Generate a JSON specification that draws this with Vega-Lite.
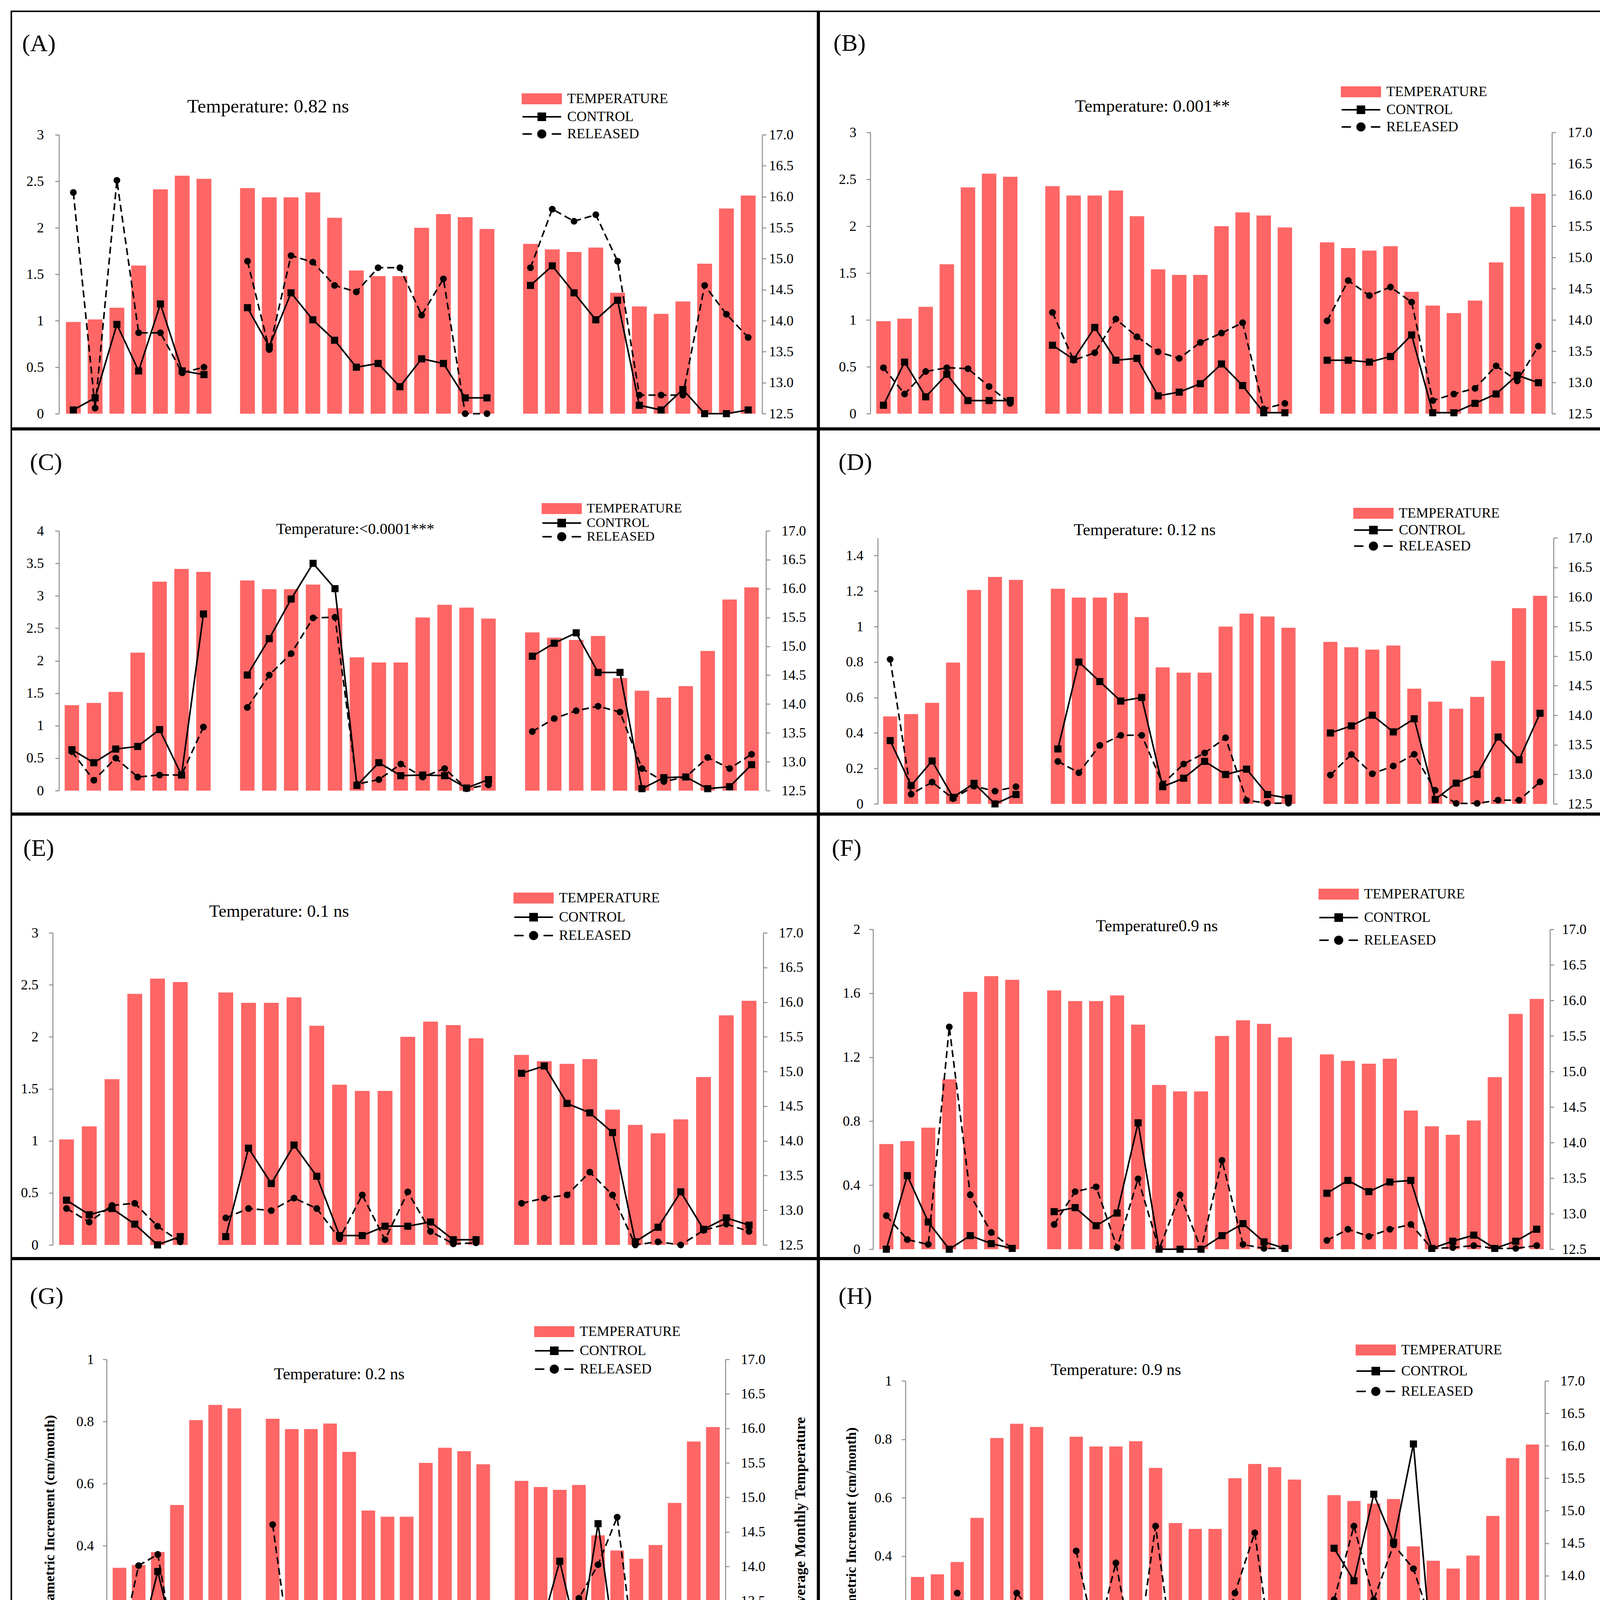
{
  "$schema": "https://vega.github.io/schema/vega-lite/v6.json",
  "background": "white",
  "padding": {"left": 27, "top": 27, "right": 0, "bottom": 0},
  "config": {
    "view": {"stroke": "black", "strokeWidth": 4},
    "axis": {"labelFont": "Liberation Serif", "labelFontSize": 36, "labelColor": "black", "domainColor": "#8c8c8c", "domainWidth": 2.5, "tickColor": "#8c8c8c", "tickWidth": 2.5, "tickSize": 10, "grid": false, "titleFont": "Liberation Serif", "titleFontWeight": "bold", "titleColor": "black"},
    "legend": {"labelFont": "Liberation Serif", "labelFontSize": 36, "labelColor": "black", "labelLimit": 600, "symbolSize": 900, "symbolStrokeWidth": 4, "labelOffset": 47, "padding": 0, "symbolOpacity": 1}
  },
  "datasets": {
    "temp": [
      {"s":1,"t":13.98},{"s":2,"t":14.02},{"s":3,"t":14.21},{"s":4,"t":14.89},{"s":5,"t":16.12},{"s":6,"t":16.34},{"s":7,"t":16.29},
      {"s":9,"t":16.14},{"s":10,"t":15.99},{"s":11,"t":15.99},{"s":12,"t":16.07},{"s":13,"t":15.66},{"s":14,"t":14.81},{"s":15,"t":14.72},{"s":16,"t":14.72},{"s":17,"t":15.5},{"s":18,"t":15.72},{"s":19,"t":15.67},{"s":20,"t":15.48},
      {"s":22,"t":15.24},{"s":23,"t":15.15},{"s":24,"t":15.11},{"s":25,"t":15.18},{"s":26,"t":14.45},{"s":27,"t":14.23},{"s":28,"t":14.11},{"s":29,"t":14.31},{"s":30,"t":14.92},{"s":31,"t":15.81},{"s":32,"t":16.02}
    ],
    "A": [
      {"s":1,"g":1,"c":0.04,"r":2.38},{"s":2,"g":1,"c":0.17,"r":0.06},{"s":3,"g":1,"c":0.96,"r":2.51},{"s":4,"g":1,"c":0.46,"r":0.87},{"s":5,"g":1,"c":1.18,"r":0.87},{"s":6,"g":1,"c":0.46,"r":0.44},{"s":7,"g":1,"c":0.42,"r":0.5},
      {"s":9,"g":2,"c":1.14,"r":1.64},{"s":10,"g":2,"c":0.72,"r":0.69},{"s":11,"g":2,"c":1.3,"r":1.7},{"s":12,"g":2,"c":1.01,"r":1.63},{"s":13,"g":2,"c":0.79,"r":1.38},{"s":14,"g":2,"c":0.5,"r":1.31},{"s":15,"g":2,"c":0.54,"r":1.57},{"s":16,"g":2,"c":0.29,"r":1.57},{"s":17,"g":2,"c":0.59,"r":1.06},{"s":18,"g":2,"c":0.54,"r":1.45},{"s":19,"g":2,"c":0.17,"r":0},{"s":20,"g":2,"c":0.17,"r":0},
      {"s":22,"g":3,"c":1.38,"r":1.57},{"s":23,"g":3,"c":1.59,"r":2.2},{"s":24,"g":3,"c":1.3,"r":2.07},{"s":25,"g":3,"c":1.01,"r":2.14},{"s":26,"g":3,"c":1.22,"r":1.64},{"s":27,"g":3,"c":0.09,"r":0.2},{"s":28,"g":3,"c":0.04,"r":0.2},{"s":29,"g":3,"c":0.26,"r":0.2},{"s":30,"g":3,"c":0,"r":1.38},{"s":31,"g":3,"c":0,"r":1.07},{"s":32,"g":3,"c":0.04,"r":0.82}
    ],
    "B": [
      {"s":1,"g":1,"c":0.09,"r":0.49},{"s":2,"g":1,"c":0.55,"r":0.21},{"s":3,"g":1,"c":0.18,"r":0.45},{"s":4,"g":1,"c":0.42,"r":0.49},{"s":5,"g":1,"c":0.14,"r":0.48},{"s":6,"g":1,"c":0.14,"r":0.29},{"s":7,"g":1,"c":0.14,"r":0.11},
      {"s":9,"g":2,"c":0.73,"r":1.08},{"s":10,"g":2,"c":0.58,"r":0.57},{"s":11,"g":2,"c":0.92,"r":0.65},{"s":12,"g":2,"c":0.57,"r":1.01},{"s":13,"g":2,"c":0.59,"r":0.82},{"s":14,"g":2,"c":0.19,"r":0.66},{"s":15,"g":2,"c":0.23,"r":0.59},{"s":16,"g":2,"c":0.32,"r":0.76},{"s":17,"g":2,"c":0.53,"r":0.86},{"s":18,"g":2,"c":0.3,"r":0.97},{"s":19,"g":2,"c":0.01,"r":0.05},{"s":20,"g":2,"c":0.01,"r":0.11},
      {"s":22,"g":3,"c":0.57,"r":0.99},{"s":23,"g":3,"c":0.57,"r":1.42},{"s":24,"g":3,"c":0.55,"r":1.26},{"s":25,"g":3,"c":0.61,"r":1.35},{"s":26,"g":3,"c":0.84,"r":1.19},{"s":27,"g":3,"c":0.01,"r":0.14},{"s":28,"g":3,"c":0.01,"r":0.21},{"s":29,"g":3,"c":0.11,"r":0.27},{"s":30,"g":3,"c":0.21,"r":0.51},{"s":31,"g":3,"c":0.41,"r":0.35},{"s":32,"g":3,"c":0.33,"r":0.72}
    ],
    "C": [
      {"s":1,"g":1,"c":0.63,"r":0.6},{"s":2,"g":1,"c":0.43,"r":0.16},{"s":3,"g":1,"c":0.64,"r":0.5},{"s":4,"g":1,"c":0.68,"r":0.21},{"s":5,"g":1,"c":0.94,"r":0.24},{"s":6,"g":1,"c":0.24,"r":0.24},{"s":7,"g":1,"c":2.72,"r":0.98},
      {"s":9,"g":2,"c":1.78,"r":1.28},{"s":10,"g":2,"c":2.34,"r":1.78},{"s":11,"g":2,"c":2.95,"r":2.11},{"s":12,"g":2,"c":3.5,"r":2.66},{"s":13,"g":2,"c":3.11,"r":2.67},{"s":14,"g":2,"c":0.08,"r":0.1},{"s":15,"g":2,"c":0.43,"r":0.17},{"s":16,"g":2,"c":0.23,"r":0.41},{"s":17,"g":2,"c":0.24,"r":0.21},{"s":18,"g":2,"c":0.23,"r":0.34},{"s":19,"g":2,"c":0.04,"r":0.03},{"s":20,"g":2,"c":0.17,"r":0.09},
      {"s":22,"g":3,"c":2.07,"r":0.91},{"s":23,"g":3,"c":2.27,"r":1.11},{"s":24,"g":3,"c":2.43,"r":1.23},{"s":25,"g":3,"c":1.82,"r":1.3},{"s":26,"g":3,"c":1.82,"r":1.21},{"s":27,"g":3,"c":0.03,"r":0.34},{"s":28,"g":3,"c":0.2,"r":0.14},{"s":29,"g":3,"c":0.21,"r":0.21},{"s":30,"g":3,"c":0.03,"r":0.51},{"s":31,"g":3,"c":0.06,"r":0.34},{"s":32,"g":3,"c":0.4,"r":0.56}
    ],
    "D": [
      {"s":1,"g":1,"c":0.357,"r":0.815},{"s":2,"g":1,"c":0.104,"r":0.055},{"s":3,"g":1,"c":0.242,"r":0.123},{"s":4,"g":1,"c":0.037,"r":0.03},{"s":5,"g":1,"c":0.116,"r":0.1},{"s":6,"g":1,"c":0,"r":0.072},{"s":7,"g":1,"c":0.053,"r":0.097},
      {"s":9,"g":2,"c":0.31,"r":0.24},{"s":10,"g":2,"c":0.8,"r":0.176},{"s":11,"g":2,"c":0.69,"r":0.33},{"s":12,"g":2,"c":0.58,"r":0.387},{"s":13,"g":2,"c":0.6,"r":0.387},{"s":14,"g":2,"c":0.097,"r":0.113},{"s":15,"g":2,"c":0.145,"r":0.225},{"s":16,"g":2,"c":0.24,"r":0.287},{"s":17,"g":2,"c":0.166,"r":0.373},{"s":18,"g":2,"c":0.196,"r":0.02},{"s":19,"g":2,"c":0.053,"r":0.004},{"s":20,"g":2,"c":0.032,"r":0.004},
      {"s":22,"g":3,"c":0.4,"r":0.163},{"s":23,"g":3,"c":0.44,"r":0.279},{"s":24,"g":3,"c":0.5,"r":0.17},{"s":25,"g":3,"c":0.406,"r":0.214},{"s":26,"g":3,"c":0.48,"r":0.28},{"s":27,"g":3,"c":0.025,"r":0.077},{"s":28,"g":3,"c":0.117,"r":0.003},{"s":29,"g":3,"c":0.166,"r":0.003},{"s":30,"g":3,"c":0.377,"r":0.021},{"s":31,"g":3,"c":0.249,"r":0.021},{"s":32,"g":3,"c":0.511,"r":0.124}
    ],
    "E": [
      {"s":2,"g":1,"c":0.43,"r":0.35},{"s":3,"g":1,"c":0.29,"r":0.22},{"s":4,"g":1,"c":0.35,"r":0.38},{"s":5,"g":1,"c":0.2,"r":0.4},{"s":6,"g":1,"c":0,"r":0.18},{"s":7,"g":1,"c":0.08,"r":0.03},
      {"s":9,"g":2,"c":0.08,"r":0.26},{"s":10,"g":2,"c":0.93,"r":0.35},{"s":11,"g":2,"c":0.59,"r":0.33},{"s":12,"g":2,"c":0.96,"r":0.45},{"s":13,"g":2,"c":0.66,"r":0.35},{"s":14,"g":2,"c":0.09,"r":0.06},{"s":15,"g":2,"c":0.09,"r":0.48},{"s":16,"g":2,"c":0.18,"r":0.05},{"s":17,"g":2,"c":0.18,"r":0.51},{"s":18,"g":2,"c":0.22,"r":0.13},{"s":19,"g":2,"c":0.05,"r":0.01},{"s":20,"g":2,"c":0.05,"r":0.02},
      {"s":22,"g":3,"c":1.65,"r":0.4},{"s":23,"g":3,"c":1.72,"r":0.45},{"s":24,"g":3,"c":1.36,"r":0.48},{"s":25,"g":3,"c":1.27,"r":0.7},{"s":26,"g":3,"c":1.08,"r":0.48},{"s":27,"g":3,"c":0.03,"r":0},{"s":28,"g":3,"c":0.17,"r":0.03},{"s":29,"g":3,"c":0.51,"r":0},{"s":30,"g":3,"c":0.15,"r":0.14},{"s":31,"g":3,"c":0.26,"r":0.2},{"s":32,"g":3,"c":0.19,"r":0.13}
    ],
    "F": [
      {"s":1,"g":1,"c":0,"r":0.21},{"s":2,"g":1,"c":0.46,"r":0.06},{"s":3,"g":1,"c":0.17,"r":0.03},{"s":4,"g":1,"c":0,"r":1.39},{"s":5,"g":1,"c":0.085,"r":0.34},{"s":6,"g":1,"c":0.035,"r":0.105},{"s":7,"g":1,"c":0.005,"r":0.005},
      {"s":9,"g":2,"c":0.235,"r":0.155},{"s":10,"g":2,"c":0.26,"r":0.36},{"s":11,"g":2,"c":0.147,"r":0.39},{"s":12,"g":2,"c":0.226,"r":0.01},{"s":13,"g":2,"c":0.79,"r":0.44},{"s":14,"g":2,"c":0,"r":0},{"s":15,"g":2,"c":0,"r":0.34},{"s":16,"g":2,"c":0,"r":0},{"s":17,"g":2,"c":0.085,"r":0.556},{"s":18,"g":2,"c":0.16,"r":0.03},{"s":19,"g":2,"c":0.046,"r":0.005},{"s":20,"g":2,"c":0.005,"r":0.005},
      {"s":22,"g":3,"c":0.35,"r":0.055},{"s":23,"g":3,"c":0.43,"r":0.125},{"s":24,"g":3,"c":0.36,"r":0.08},{"s":25,"g":3,"c":0.42,"r":0.125},{"s":26,"g":3,"c":0.43,"r":0.155},{"s":27,"g":3,"c":0.005,"r":0.005},{"s":28,"g":3,"c":0.05,"r":0.01},{"s":29,"g":3,"c":0.088,"r":0.023},{"s":30,"g":3,"c":0.005,"r":0.005},{"s":31,"g":3,"c":0.05,"r":0.005},{"s":32,"g":3,"c":0.125,"r":0.023}
    ],
    "G": [
      {"s":1,"g":1,"c":0.105,"r":0.06},{"s":2,"g":1,"c":0.07,"r":0.336},{"s":3,"g":1,"c":0.317,"r":0.372},{"s":4,"g":1,"c":0.06,"r":0.02},{"s":5,"g":1,"c":0.06,"r":0.07},{"s":6,"g":1,"c":0.072,"r":0.039},{"s":7,"g":1,"c":0.053,"r":0.105},
      {"s":9,"g":2,"c":0.066,"r":0.468},{"s":10,"g":2,"c":0.123,"r":0.024},{"s":11,"g":2,"c":0.066,"r":0.024},{"s":12,"g":2,"c":0.176,"r":0.116},{"s":13,"g":2,"c":0.141,"r":0.07},{"s":14,"g":2,"c":0.003,"r":0.003},{"s":15,"g":2,"c":0.024,"r":0.003},{"s":16,"g":2,"c":0.003,"r":0.005},{"s":17,"g":2,"c":0.035,"r":0.066},{"s":18,"g":2,"c":0.112,"r":0.044},{"s":19,"g":2,"c":0.02,"r":0.003},{"s":20,"g":2,"c":0.003,"r":0.003},
      {"s":22,"g":3,"c":0.036,"r":0.116},{"s":23,"g":3,"c":0.13,"r":0.138},{"s":24,"g":3,"c":0.35,"r":0.086},{"s":25,"g":3,"c":0.083,"r":0.231},{"s":26,"g":3,"c":0.471,"r":0.339},{"s":27,"g":3,"c":0.02,"r":0.492},{"s":28,"g":3,"c":0.025,"r":0.003},{"s":29,"g":3,"c":0.083,"r":0.022},{"s":30,"g":3,"c":0.077,"r":0.003},{"s":31,"g":3,"c":0.022,"r":0.003},{"s":32,"g":3,"c":0.058,"r":0.003}
    ],
    "H": [
      {"s":1,"g":1,"c":0.056,"r":0.064},{"s":2,"g":1,"c":0.143,"r":0.044},{"s":3,"g":1,"c":0.22,"r":0.274},{"s":4,"g":1,"c":0.044,"r":0.149},{"s":5,"g":1,"c":0.126,"r":0.002},{"s":6,"g":1,"c":0.044,"r":0.274},{"s":7,"g":1,"c":0.002,"r":0.19},
      {"s":9,"g":2,"c":0.002,"r":0.418},{"s":10,"g":2,"c":0.002,"r":0.108},{"s":11,"g":2,"c":0.029,"r":0.377},{"s":12,"g":2,"c":0.068,"r":0.023},{"s":13,"g":2,"c":0.115,"r":0.503},{"s":14,"g":2,"c":0.002,"r":0.002},{"s":15,"g":2,"c":0.029,"r":0.085},{"s":16,"g":2,"c":0.002,"r":0.002},{"s":17,"g":2,"c":0.029,"r":0.274},{"s":18,"g":2,"c":0.08,"r":0.48},{"s":19,"g":2,"c":0.002,"r":0.002},{"s":20,"g":2,"c":0.002,"r":0.002},
      {"s":22,"g":3,"c":0.427,"r":0.251},{"s":23,"g":3,"c":0.316,"r":0.503},{"s":24,"g":3,"c":0.612,"r":0.251},{"s":25,"g":3,"c":0.447,"r":0.439},{"s":26,"g":3,"c":0.784,"r":0.357},{"s":27,"g":3,"c":0.002,"r":0.15},{"s":28,"g":3,"c":0.002,"r":0.126},{"s":29,"g":3,"c":0.137,"r":0.167},{"s":30,"g":3,"c":0.002,"r":0.002},{"s":31,"g":3,"c":0.002,"r":0.002},{"s":32,"g":3,"c":0.002,"r":0.002}
    ]
  },
  "spacing": 0,
  "resolve": {"scale": {"x": "independent", "y": "independent", "color": "independent", "shape": "independent", "stroke": "independent"}, "legend": {"color": "independent", "shape": "independent", "stroke": "independent"}},
  "vconcat": [
    {
      "spacing": 0,
      "resolve": {"scale": {"x": "independent", "y": "independent", "color": "independent", "shape": "independent", "stroke": "independent"}, "legend": {"color": "independent", "shape": "independent", "stroke": "independent"}},
      "hconcat": [
        {
          "width": 2064, "height": 1067,
          "data": {"name": "A"},
          "encoding": {"x": {"field": "s", "type": "quantitative", "axis": null, "scale": {"domain": [0.43, 32.55], "range": [122, 1922], "nice": false, "zero": false}}},
          "resolve": {"scale": {"y": "independent"}},
          "layer": [
            {"data": {"name": "temp"}, "mark": {"type": "bar", "color": "#FF6666", "width": 38},
             "encoding": {"y": {"field": "t", "type": "quantitative", "scale": {"domain": [12.5, 17], "range": [1030, 316], "nice": false, "zero": false}, "axis": {"orient": "right", "offset": -142, "values": [12.5, 13, 13.5, 14, 14.5, 15, 15.5, 16, 16.5, 17], "format": ".1f", "title": null, "labelPadding": 7}}, "y2": {"datum": 12.5}}},
            {"mark": {"type": "line", "color": "black", "strokeWidth": 4},
             "encoding": {"y": {"field": "c", "type": "quantitative", "scale": {"domain": [0, 3], "range": [1030, 316], "nice": false, "zero": false}, "axis": {"orient": "left", "offset": -122, "values": [0, 0.5, 1, 1.5, 2, 2.5, 3], "format": "~g", "title": null, "labelPadding": 29}}, "detail": {"field": "g", "type": "nominal"}}},
            {"mark": {"type": "point", "shape": "square", "filled": true, "color": "black", "size": 330, "opacity": 1},
             "encoding": {"y": {"field": "c", "type": "quantitative", "scale": {"domain": [0, 3], "range": [1030, 316], "nice": false, "zero": false},
               "axis": {"orient": "left", "offset": 0, "domain": false, "ticks": false, "labels": false, "title": "(A)", "titleAngle": 0, "titleAlign": "left", "titleBaseline": "top", "titleX": 27, "titleY": 52, "titleFontSize": 62, "titleFontWeight": "normal"}}}},
            {"mark": {"type": "line", "color": "black", "strokeWidth": 4, "strokeDash": [18, 10]},
             "encoding": {"y": {"field": "r", "type": "quantitative", "scale": {"domain": [0, 3], "range": [1030, 316], "nice": false, "zero": false}, "axis": null}, "detail": {"field": "g", "type": "nominal"}}},
            {"mark": {"type": "point", "shape": "circle", "filled": true, "color": "black", "size": 300, "opacity": 1},
             "encoding": {"y": {"field": "r", "type": "quantitative", "scale": {"domain": [0, 3], "range": [1030, 316], "nice": false, "zero": false},
               "axis": {"orient": "left", "offset": 0, "domain": false, "ticks": false, "labels": false, "title": "Temperature: 0.82  ns", "titleAngle": 0, "titleAlign": "center", "titleBaseline": "middle", "titleX": 657, "titleY": 243, "titleFontSize": 49, "titleFontWeight": "normal"}}}},
            {"transform": [{"filter": "false"}], "mark": {"type": "point", "filled": true, "opacity": 1, "size": 900, "strokeWidth": 4},
             "encoding": {
               "shape": {"field": "k", "type": "nominal", "scale": {"domain": ["TEMPERATURE", "CONTROL", "RELEASED"], "range": ["M-3.3,-0.8H3.3V0.8H-3.3Z", "M-3.3,0H3.3M-0.6,-0.6H0.6V0.6H-0.6Z", "M-3.3,0H-1.7M1.7,0H3.3M0.65,0A0.65,0.65,0,1,1,-0.65,0A0.65,0.65,0,1,1,0.65,0Z"]}, "legend": {"orient": "none", "legendX": 1340, "legendY": 206, "rowPadding": 8, "title": null}},
               "color": {"field": "k", "type": "nominal", "scale": {"domain": ["TEMPERATURE", "CONTROL", "RELEASED"], "range": ["#FF6666", "black", "black"]}, "legend": {"orient": "none", "legendX": 1340, "legendY": 206, "rowPadding": 8, "title": null}},
               "stroke": {"field": "k", "type": "nominal", "scale": {"domain": ["TEMPERATURE", "CONTROL", "RELEASED"], "range": ["#FF6666", "black", "black"]}, "legend": {"orient": "none", "legendX": 1340, "legendY": 206, "rowPadding": 8, "title": null}}
             }}
          ]
        },
        {
          "width": 2016, "height": 1067,
          "data": {"name": "B"},
          "encoding": {"x": {"field": "s", "type": "quantitative", "axis": null, "scale": {"domain": [0.47, 32.55], "range": [131, 1876], "nice": false, "zero": false}}},
          "resolve": {"scale": {"y": "independent"}},
          "layer": [
            {"data": {"name": "temp"}, "mark": {"type": "bar", "color": "#FF6666", "width": 37},
             "encoding": {"y": {"field": "t", "type": "quantitative", "scale": {"domain": [12.5, 17], "range": [1030, 310], "nice": false, "zero": false}, "axis": {"orient": "right", "offset": -140, "values": [12.5, 13, 13.5, 14, 14.5, 15, 15.5, 16, 16.5, 17], "format": ".1f", "title": null, "labelPadding": 30}}, "y2": {"datum": 12.5}}},
            {"mark": {"type": "line", "color": "black", "strokeWidth": 4},
             "encoding": {"y": {"field": "c", "type": "quantitative", "scale": {"domain": [0, 3], "range": [1030, 310], "nice": false, "zero": false}, "axis": {"orient": "left", "offset": -131, "values": [0, 0.5, 1, 1.5, 2, 2.5, 3], "format": "~g", "title": null, "labelPadding": 26}}, "detail": {"field": "g", "type": "nominal"}}},
            {"mark": {"type": "point", "shape": "square", "filled": true, "color": "black", "size": 330, "opacity": 1},
             "encoding": {"y": {"field": "c", "type": "quantitative", "scale": {"domain": [0, 3], "range": [1030, 310], "nice": false, "zero": false},
               "axis": {"orient": "left", "offset": 0, "domain": false, "ticks": false, "labels": false, "title": "(B)", "titleAngle": 0, "titleAlign": "left", "titleBaseline": "top", "titleX": 36, "titleY": 51, "titleFontSize": 62, "titleFontWeight": "normal"}}}},
            {"mark": {"type": "line", "color": "black", "strokeWidth": 4, "strokeDash": [18, 10]},
             "encoding": {"y": {"field": "r", "type": "quantitative", "scale": {"domain": [0, 3], "range": [1030, 310], "nice": false, "zero": false}, "axis": null}, "detail": {"field": "g", "type": "nominal"}}},
            {"mark": {"type": "point", "shape": "circle", "filled": true, "color": "black", "size": 300, "opacity": 1},
             "encoding": {"y": {"field": "r", "type": "quantitative", "scale": {"domain": [0, 3], "range": [1030, 310], "nice": false, "zero": false},
               "axis": {"orient": "left", "offset": 0, "domain": false, "ticks": false, "labels": false, "title": "Temperature:  0.001**", "titleAngle": 0, "titleAlign": "center", "titleBaseline": "middle", "titleX": 853, "titleY": 242, "titleFontSize": 45, "titleFontWeight": "normal"}}}},
            {"transform": [{"filter": "false"}], "mark": {"type": "point", "filled": true, "opacity": 1, "size": 900, "strokeWidth": 4},
             "encoding": {
               "shape": {"field": "k", "type": "nominal", "scale": {"domain": ["TEMPERATURE", "CONTROL", "RELEASED"], "range": ["M-3.3,-0.8H3.3V0.8H-3.3Z", "M-3.3,0H3.3M-0.6,-0.6H0.6V0.6H-0.6Z", "M-3.3,0H-1.7M1.7,0H3.3M0.65,0A0.65,0.65,0,1,1,-0.65,0A0.65,0.65,0,1,1,0.65,0Z"]}, "legend": {"orient": "none", "legendX": 1369, "legendY": 188, "rowPadding": 8, "title": null}},
               "color": {"field": "k", "type": "nominal", "scale": {"domain": ["TEMPERATURE", "CONTROL", "RELEASED"], "range": ["#FF6666", "black", "black"]}, "legend": {"orient": "none", "legendX": 1369, "legendY": 188, "rowPadding": 8, "title": null}},
               "stroke": {"field": "k", "type": "nominal", "scale": {"domain": ["TEMPERATURE", "CONTROL", "RELEASED"], "range": ["#FF6666", "black", "black"]}, "legend": {"orient": "none", "legendX": 1369, "legendY": 188, "rowPadding": 8, "title": null}}
             }}
          ]
        }
      ]
    },
    {
      "spacing": 0,
      "resolve": {"scale": {"x": "independent", "y": "independent", "color": "independent", "shape": "independent", "stroke": "independent"}, "legend": {"color": "independent", "shape": "independent", "stroke": "independent"}},
      "hconcat": [
        {
          "width": 2064, "height": 982,
          "data": {"name": "C"},
          "encoding": {"x": {"field": "s", "type": "quantitative", "axis": null, "scale": {"domain": [0.5, 32.57], "range": [122, 1932], "nice": false, "zero": false}}},
          "resolve": {"scale": {"y": "independent"}},
          "layer": [
            {"data": {"name": "temp"}, "mark": {"type": "bar", "color": "#FF6666", "width": 37},
             "encoding": {"y": {"field": "t", "type": "quantitative", "scale": {"domain": [12.5, 17], "range": [924, 259], "nice": false, "zero": false}, "axis": {"orient": "right", "offset": -132, "values": [12.5, 13, 13.5, 14, 14.5, 15, 15.5, 16, 16.5, 17], "format": ".1f", "title": null, "labelPadding": 29}}, "y2": {"datum": 12.5}}},
            {"mark": {"type": "line", "color": "black", "strokeWidth": 4},
             "encoding": {"y": {"field": "c", "type": "quantitative", "scale": {"domain": [0, 4], "range": [924, 259], "nice": false, "zero": false}, "axis": {"orient": "left", "offset": -122, "values": [0, 0.5, 1, 1.5, 2, 2.5, 3, 3.5, 4], "format": "~g", "title": null, "labelPadding": 29}}, "detail": {"field": "g", "type": "nominal"}}},
            {"mark": {"type": "point", "shape": "square", "filled": true, "color": "black", "size": 330, "opacity": 1},
             "encoding": {"y": {"field": "c", "type": "quantitative", "scale": {"domain": [0, 4], "range": [924, 259], "nice": false, "zero": false},
               "axis": {"orient": "left", "offset": 0, "domain": false, "ticks": false, "labels": false, "title": "(C)", "titleAngle": 0, "titleAlign": "left", "titleBaseline": "top", "titleX": 47, "titleY": 53, "titleFontSize": 62, "titleFontWeight": "normal"}}}},
            {"mark": {"type": "line", "color": "black", "strokeWidth": 4, "strokeDash": [18, 10]},
             "encoding": {"y": {"field": "r", "type": "quantitative", "scale": {"domain": [0, 4], "range": [924, 259], "nice": false, "zero": false}, "axis": null}, "detail": {"field": "g", "type": "nominal"}}},
            {"mark": {"type": "point", "shape": "circle", "filled": true, "color": "black", "size": 300, "opacity": 1},
             "encoding": {"y": {"field": "r", "type": "quantitative", "scale": {"domain": [0, 4], "range": [924, 259], "nice": false, "zero": false},
               "axis": {"orient": "left", "offset": 0, "domain": false, "ticks": false, "labels": false, "title": "Temperature:<0.0001***", "titleAngle": 0, "titleAlign": "center", "titleBaseline": "middle", "titleX": 880, "titleY": 254, "titleFontSize": 40, "titleFontWeight": "normal"}}}},
            {"transform": [{"filter": "false"}], "mark": {"type": "point", "filled": true, "opacity": 1, "size": 900, "strokeWidth": 4},
             "encoding": {
               "shape": {"field": "k", "type": "nominal", "scale": {"domain": ["TEMPERATURE", "CONTROL", "RELEASED"], "range": ["M-3.3,-0.8H3.3V0.8H-3.3Z", "M-3.3,0H3.3M-0.6,-0.6H0.6V0.6H-0.6Z", "M-3.3,0H-1.7M1.7,0H3.3M0.65,0A0.65,0.65,0,1,1,-0.65,0A0.65,0.65,0,1,1,0.65,0Z"]}, "legend": {"orient": "none", "legendX": 1392, "legendY": 185, "rowPadding": 0, "title": null, "labelFontSize": 34}},
               "color": {"field": "k", "type": "nominal", "scale": {"domain": ["TEMPERATURE", "CONTROL", "RELEASED"], "range": ["#FF6666", "black", "black"]}, "legend": {"orient": "none", "legendX": 1392, "legendY": 185, "rowPadding": 0, "title": null, "labelFontSize": 34}},
               "stroke": {"field": "k", "type": "nominal", "scale": {"domain": ["TEMPERATURE", "CONTROL", "RELEASED"], "range": ["#FF6666", "black", "black"]}, "legend": {"orient": "none", "legendX": 1392, "legendY": 185, "rowPadding": 0, "title": null, "labelFontSize": 34}}
             }}
          ]
        },
        {
          "width": 2016, "height": 982,
          "data": {"name": "D"},
          "encoding": {"x": {"field": "s", "type": "quantitative", "axis": null, "scale": {"domain": [0.5, 32.55], "range": [150, 1880], "nice": false, "zero": false}}},
          "resolve": {"scale": {"y": "independent"}},
          "layer": [
            {"data": {"name": "temp"}, "mark": {"type": "bar", "color": "#FF6666", "width": 36},
             "encoding": {"y": {"field": "t", "type": "quantitative", "scale": {"domain": [12.5, 17], "range": [958, 277], "nice": false, "zero": false}, "axis": {"orient": "right", "offset": -136, "values": [12.5, 13, 13.5, 14, 14.5, 15, 15.5, 16, 16.5, 17], "format": ".1f", "title": null, "labelPadding": 26}}, "y2": {"datum": 12.5}}},
            {"mark": {"type": "line", "color": "black", "strokeWidth": 4},
             "encoding": {"y": {"field": "c", "type": "quantitative", "scale": {"domain": [0, 1.5], "range": [958, 277], "nice": false, "zero": false}, "axis": {"orient": "left", "offset": -150, "values": [0, 0.2, 0.4, 0.6, 0.8, 1, 1.2, 1.4], "format": "~g", "title": null, "labelPadding": 27}}, "detail": {"field": "g", "type": "nominal"}}},
            {"mark": {"type": "point", "shape": "square", "filled": true, "color": "black", "size": 330, "opacity": 1},
             "encoding": {"y": {"field": "c", "type": "quantitative", "scale": {"domain": [0, 1.5], "range": [958, 277], "nice": false, "zero": false},
               "axis": {"orient": "left", "offset": 0, "domain": false, "ticks": false, "labels": false, "title": "(D)", "titleAngle": 0, "titleAlign": "left", "titleBaseline": "top", "titleX": 49, "titleY": 53, "titleFontSize": 62, "titleFontWeight": "normal"}}}},
            {"mark": {"type": "line", "color": "black", "strokeWidth": 4, "strokeDash": [18, 10]},
             "encoding": {"y": {"field": "r", "type": "quantitative", "scale": {"domain": [0, 1.5], "range": [958, 277], "nice": false, "zero": false}, "axis": null}, "detail": {"field": "g", "type": "nominal"}}},
            {"mark": {"type": "point", "shape": "circle", "filled": true, "color": "black", "size": 300, "opacity": 1},
             "encoding": {"y": {"field": "r", "type": "quantitative", "scale": {"domain": [0, 1.5], "range": [958, 277], "nice": false, "zero": false},
               "axis": {"orient": "left", "offset": 0, "domain": false, "ticks": false, "labels": false, "title": "Temperature: 0.12 ns", "titleAngle": 0, "titleAlign": "center", "titleBaseline": "middle", "titleX": 833, "titleY": 256, "titleFontSize": 43, "titleFontWeight": "normal"}}}},
            {"transform": [{"filter": "false"}], "mark": {"type": "point", "filled": true, "opacity": 1, "size": 900, "strokeWidth": 4},
             "encoding": {
               "shape": {"field": "k", "type": "nominal", "scale": {"domain": ["TEMPERATURE", "CONTROL", "RELEASED"], "range": ["M-3.3,-0.8H3.3V0.8H-3.3Z", "M-3.3,0H3.3M-0.6,-0.6H0.6V0.6H-0.6Z", "M-3.3,0H-1.7M1.7,0H3.3M0.65,0A0.65,0.65,0,1,1,-0.65,0A0.65,0.65,0,1,1,0.65,0Z"]}, "legend": {"orient": "none", "legendX": 1401, "legendY": 196, "rowPadding": 5, "title": null}},
               "color": {"field": "k", "type": "nominal", "scale": {"domain": ["TEMPERATURE", "CONTROL", "RELEASED"], "range": ["#FF6666", "black", "black"]}, "legend": {"orient": "none", "legendX": 1401, "legendY": 196, "rowPadding": 5, "title": null}},
               "stroke": {"field": "k", "type": "nominal", "scale": {"domain": ["TEMPERATURE", "CONTROL", "RELEASED"], "range": ["#FF6666", "black", "black"]}, "legend": {"orient": "none", "legendX": 1401, "legendY": 196, "rowPadding": 5, "title": null}}
             }}
          ]
        }
      ]
    },
    {
      "spacing": 0,
      "resolve": {"scale": {"x": "independent", "y": "independent", "color": "independent", "shape": "independent", "stroke": "independent"}, "legend": {"color": "independent", "shape": "independent", "stroke": "independent"}},
      "hconcat": [
        {
          "width": 2064, "height": 1134,
          "data": {"name": "E"},
          "encoding": {"x": {"field": "s", "type": "quantitative", "axis": null, "scale": {"domain": [1.48, 32.54], "range": [106, 1925], "nice": false, "zero": false}}},
          "resolve": {"scale": {"y": "independent"}},
          "layer": [
            {"data": {"name": "temp"}, "transform": [{"filter": "datum.s > 1"}], "mark": {"type": "bar", "color": "#FF6666", "width": 38},
             "encoding": {"y": {"field": "t", "type": "quantitative", "scale": {"domain": [12.5, 17], "range": [1101, 302], "nice": false, "zero": false}, "axis": {"orient": "right", "offset": -139, "values": [12.5, 13, 13.5, 14, 14.5, 15, 15.5, 16, 16.5, 17], "format": ".1f", "title": null, "labelPadding": 29}}, "y2": {"datum": 12.5}}},
            {"mark": {"type": "line", "color": "black", "strokeWidth": 4},
             "encoding": {"y": {"field": "c", "type": "quantitative", "scale": {"domain": [0, 3], "range": [1101, 302], "nice": false, "zero": false}, "axis": {"orient": "left", "offset": -106, "values": [0, 0.5, 1, 1.5, 2, 2.5, 3], "format": "~g", "title": null, "labelPadding": 27}}, "detail": {"field": "g", "type": "nominal"}}},
            {"mark": {"type": "point", "shape": "square", "filled": true, "color": "black", "size": 330, "opacity": 1},
             "encoding": {"y": {"field": "c", "type": "quantitative", "scale": {"domain": [0, 3], "range": [1101, 302], "nice": false, "zero": false},
               "axis": {"orient": "left", "offset": 0, "domain": false, "ticks": false, "labels": false, "title": "(E)", "titleAngle": 0, "titleAlign": "left", "titleBaseline": "top", "titleX": 30, "titleY": 55, "titleFontSize": 62, "titleFontWeight": "normal"}}}},
            {"mark": {"type": "line", "color": "black", "strokeWidth": 4, "strokeDash": [18, 10]},
             "encoding": {"y": {"field": "r", "type": "quantitative", "scale": {"domain": [0, 3], "range": [1101, 302], "nice": false, "zero": false}, "axis": null}, "detail": {"field": "g", "type": "nominal"}}},
            {"mark": {"type": "point", "shape": "circle", "filled": true, "color": "black", "size": 300, "opacity": 1},
             "encoding": {"y": {"field": "r", "type": "quantitative", "scale": {"domain": [0, 3], "range": [1101, 302], "nice": false, "zero": false},
               "axis": {"orient": "left", "offset": 0, "domain": false, "ticks": false, "labels": false, "title": "Temperature: 0.1  ns", "titleAngle": 0, "titleAlign": "center", "titleBaseline": "middle", "titleX": 685, "titleY": 246, "titleFontSize": 45, "titleFontWeight": "normal"}}}},
            {"transform": [{"filter": "false"}], "mark": {"type": "point", "filled": true, "opacity": 1, "size": 900, "strokeWidth": 4},
             "encoding": {
               "shape": {"field": "k", "type": "nominal", "scale": {"domain": ["TEMPERATURE", "CONTROL", "RELEASED"], "range": ["M-3.3,-0.8H3.3V0.8H-3.3Z", "M-3.3,0H3.3M-0.6,-0.6H0.6V0.6H-0.6Z", "M-3.3,0H-1.7M1.7,0H3.3M0.65,0A0.65,0.65,0,1,1,-0.65,0A0.65,0.65,0,1,1,0.65,0Z"]}, "legend": {"orient": "none", "legendX": 1319, "legendY": 195, "rowPadding": 11, "title": null}},
               "color": {"field": "k", "type": "nominal", "scale": {"domain": ["TEMPERATURE", "CONTROL", "RELEASED"], "range": ["#FF6666", "black", "black"]}, "legend": {"orient": "none", "legendX": 1319, "legendY": 195, "rowPadding": 11, "title": null}},
               "stroke": {"field": "k", "type": "nominal", "scale": {"domain": ["TEMPERATURE", "CONTROL", "RELEASED"], "range": ["#FF6666", "black", "black"]}, "legend": {"orient": "none", "legendX": 1319, "legendY": 195, "rowPadding": 11, "title": null}}
             }}
          ]
        },
        {
          "width": 2016, "height": 1134,
          "data": {"name": "F"},
          "encoding": {"x": {"field": "s", "type": "quantitative", "axis": null, "scale": {"domain": [0.46, 32.54], "range": [138, 1871], "nice": false, "zero": false}}},
          "resolve": {"scale": {"y": "independent"}},
          "layer": [
            {"data": {"name": "temp"}, "mark": {"type": "bar", "color": "#FF6666", "width": 36},
             "encoding": {"y": {"field": "t", "type": "quantitative", "scale": {"domain": [12.5, 17], "range": [1112, 293], "nice": false, "zero": false}, "axis": {"orient": "right", "offset": -145, "values": [12.5, 13, 13.5, 14, 14.5, 15, 15.5, 16, 16.5, 17], "format": ".1f", "title": null, "labelPadding": 20}}, "y2": {"datum": 12.5}}},
            {"mark": {"type": "line", "color": "black", "strokeWidth": 4},
             "encoding": {"y": {"field": "c", "type": "quantitative", "scale": {"domain": [0, 2], "range": [1112, 293], "nice": false, "zero": false}, "axis": {"orient": "left", "offset": -138, "values": [0, 0.4, 0.8, 1.2, 1.6, 2], "format": "~g", "title": null, "labelPadding": 23}}, "detail": {"field": "g", "type": "nominal"}}},
            {"mark": {"type": "point", "shape": "square", "filled": true, "color": "black", "size": 330, "opacity": 1},
             "encoding": {"y": {"field": "c", "type": "quantitative", "scale": {"domain": [0, 2], "range": [1112, 293], "nice": false, "zero": false},
               "axis": {"orient": "left", "offset": 0, "domain": false, "ticks": false, "labels": false, "title": "(F)", "titleAngle": 0, "titleAlign": "left", "titleBaseline": "top", "titleX": 32, "titleY": 55, "titleFontSize": 62, "titleFontWeight": "normal"}}}},
            {"mark": {"type": "line", "color": "black", "strokeWidth": 4, "strokeDash": [18, 10]},
             "encoding": {"y": {"field": "r", "type": "quantitative", "scale": {"domain": [0, 2], "range": [1112, 293], "nice": false, "zero": false}, "axis": null}, "detail": {"field": "g", "type": "nominal"}}},
            {"mark": {"type": "point", "shape": "circle", "filled": true, "color": "black", "size": 300, "opacity": 1},
             "encoding": {"y": {"field": "r", "type": "quantitative", "scale": {"domain": [0, 2], "range": [1112, 293], "nice": false, "zero": false},
               "axis": {"orient": "left", "offset": 0, "domain": false, "ticks": false, "labels": false, "title": "Temperature0.9 ns", "titleAngle": 0, "titleAlign": "center", "titleBaseline": "middle", "titleX": 864, "titleY": 284, "titleFontSize": 42, "titleFontWeight": "normal"}}}},
            {"transform": [{"filter": "false"}], "mark": {"type": "point", "filled": true, "opacity": 1, "size": 900, "strokeWidth": 4},
             "encoding": {
               "shape": {"field": "k", "type": "nominal", "scale": {"domain": ["TEMPERATURE", "CONTROL", "RELEASED"], "range": ["M-3.3,-0.8H3.3V0.8H-3.3Z", "M-3.3,0H3.3M-0.6,-0.6H0.6V0.6H-0.6Z", "M-3.3,0H-1.7M1.7,0H3.3M0.65,0A0.65,0.65,0,1,1,-0.65,0A0.65,0.65,0,1,1,0.65,0Z"]}, "legend": {"orient": "none", "legendX": 1312, "legendY": 185, "rowPadding": 22, "title": null}},
               "color": {"field": "k", "type": "nominal", "scale": {"domain": ["TEMPERATURE", "CONTROL", "RELEASED"], "range": ["#FF6666", "black", "black"]}, "legend": {"orient": "none", "legendX": 1312, "legendY": 185, "rowPadding": 22, "title": null}},
               "stroke": {"field": "k", "type": "nominal", "scale": {"domain": ["TEMPERATURE", "CONTROL", "RELEASED"], "range": ["#FF6666", "black", "black"]}, "legend": {"orient": "none", "legendX": 1312, "legendY": 185, "rowPadding": 22, "title": null}}
             }}
          ]
        }
      ]
    },
    {
      "spacing": 0,
      "resolve": {"scale": {"x": "independent", "y": "independent", "color": "independent", "shape": "independent", "stroke": "independent"}, "legend": {"color": "independent", "shape": "independent", "stroke": "independent"}},
      "hconcat": [
        {
          "width": 2064, "height": 1373,
          "data": {"name": "G"},
          "encoding": {"x": {"field": "s", "type": "quantitative", "scale": {"domain": [0.43, 32.55], "range": [244, 1828], "nice": false, "zero": false},
            "axis": {"orient": "bottom", "offset": -322, "values": [1,2,3,4,5,6,7,8,9,10,11,12,13,14,15,16,17,18,19,20,21,22,23,24,25,26,27,28,29,30,31,32], "labelExpr": "['','JUN','JUL','AUG','SEP','OCT','NOV','DEC','','JAN','FEB','MAR','APR','MAY','JUN','JUL','AUG','SEP','OCT','NOV','DEC','','JAN','FEB','MAR','APR','MAY','JUN','JUL','AUG','SEP','OCT','NOV'][datum.value]", "labelAngle": -90, "labelAlign": "right", "labelBaseline": "middle", "labelFontSize": 36, "tickOffset": -24.66, "labelOffset": 24.66, "tickSize": 12, "labelPadding": 10, "labelOverlap": false, "labelFlush": false, "title": null}}},
          "resolve": {"scale": {"y": "independent"}},
          "layer": [
            {"data": {"name": "temp"}, "mark": {"type": "bar", "color": "#FF6666", "width": 35},
             "encoding": {"y": {"field": "t", "type": "quantitative", "scale": {"domain": [12.5, 17], "range": [1051, 256], "nice": false, "zero": false}, "axis": {"orient": "right", "offset": -236, "values": [12.5, 13, 13.5, 14, 14.5, 15, 15.5, 16, 16.5, 17], "format": ".1f", "title": "Average Monthly Temperature", "titleAngle": 270, "titleBaseline": "top", "titlePadding": 71, "titleFontSize": 38, "labelPadding": 29}}, "y2": {"datum": 12.5}}},
            {"mark": {"type": "line", "color": "black", "strokeWidth": 4},
             "encoding": {"y": {"field": "c", "type": "quantitative", "scale": {"domain": [0, 1], "range": [1051, 256], "nice": false, "zero": false}, "axis": {"orient": "left", "offset": -244, "values": [0, 0.2, 0.4, 0.6, 0.8, 1], "format": "~g", "title": "Diametric Increment (cm/month)", "titlePadding": 49, "titleFontSize": 36, "labelPadding": 23}}, "detail": {"field": "g", "type": "nominal"}}},
            {"mark": {"type": "point", "shape": "square", "filled": true, "color": "black", "size": 330, "opacity": 1},
             "encoding": {"y": {"field": "c", "type": "quantitative", "scale": {"domain": [0, 1], "range": [1051, 256], "nice": false, "zero": false},
               "axis": {"orient": "left", "offset": 0, "domain": false, "ticks": false, "labels": false, "title": "(G)", "titleAngle": 0, "titleAlign": "left", "titleBaseline": "top", "titleX": 47, "titleY": 64, "titleFontSize": 62, "titleFontWeight": "normal"}}}},
            {"mark": {"type": "line", "color": "black", "strokeWidth": 4, "strokeDash": [18, 10]},
             "encoding": {"y": {"field": "r", "type": "quantitative", "scale": {"domain": [0, 1], "range": [1051, 256], "nice": false, "zero": false}, "axis": null}, "detail": {"field": "g", "type": "nominal"}}},
            {"mark": {"type": "point", "shape": "circle", "filled": true, "color": "black", "size": 300, "opacity": 1},
             "encoding": {"y": {"field": "r", "type": "quantitative", "scale": {"domain": [0, 1], "range": [1051, 256], "nice": false, "zero": false},
               "axis": {"orient": "left", "offset": 0, "domain": false, "ticks": false, "labels": false, "title": "Temperature: 0.2 ns", "titleAngle": 0, "titleAlign": "center", "titleBaseline": "middle", "titleX": 839, "titleY": 293, "titleFontSize": 42, "titleFontWeight": "normal"}}}},
            {"transform": [{"filter": "false"}], "mark": {"type": "point", "filled": true, "opacity": 1, "size": 900, "strokeWidth": 4},
             "encoding": {
               "shape": {"field": "k", "type": "nominal", "scale": {"domain": ["TEMPERATURE", "CONTROL", "RELEASED"], "range": ["M-3.3,-0.8H3.3V0.8H-3.3Z", "M-3.3,0H3.3M-0.6,-0.6H0.6V0.6H-0.6Z", "M-3.3,0H-1.7M1.7,0H3.3M0.65,0A0.65,0.65,0,1,1,-0.65,0A0.65,0.65,0,1,1,0.65,0Z"]}, "legend": {"orient": "none", "legendX": 1372, "legendY": 167, "rowPadding": 11, "title": null}},
               "color": {"field": "k", "type": "nominal", "scale": {"domain": ["TEMPERATURE", "CONTROL", "RELEASED"], "range": ["#FF6666", "black", "black"]}, "legend": {"orient": "none", "legendX": 1372, "legendY": 167, "rowPadding": 11, "title": null}},
               "stroke": {"field": "k", "type": "nominal", "scale": {"domain": ["TEMPERATURE", "CONTROL", "RELEASED"], "range": ["#FF6666", "black", "black"]}, "legend": {"orient": "none", "legendX": 1372, "legendY": 167, "rowPadding": 11, "title": null}}
             }}
          ]
        },
        {
          "width": 2016, "height": 1373,
          "data": {"name": "H"},
          "encoding": {"x": {"field": "s", "type": "quantitative", "scale": {"domain": [0.49, 32.53], "range": [221, 1858], "nice": false, "zero": false},
            "axis": {"orient": "bottom", "offset": -314, "values": [1,2,3,4,5,6,7,8,9,10,11,12,13,14,15,16,17,18,19,20,21,22,23,24,25,26,27,28,29,30,31,32], "labelExpr": "['','JUN','JUL','AUG','SEP','OCT','NOV','DEC','','JAN','FEB','MAR','APR','MAY','JUN','JUL','AUG','SEP','OCT','NOV','DEC','','JAN','FEB','MAR','APR','MAY','JUN','JUL','AUG','SEP','OCT','NOV'][datum.value]", "labelAngle": -90, "labelAlign": "right", "labelBaseline": "middle", "labelFontSize": 38, "tickOffset": -25.55, "labelOffset": 25.55, "tickSize": 12, "labelPadding": 10, "labelOverlap": false, "labelFlush": false, "title": null}}},
          "resolve": {"scale": {"y": "independent"}},
          "layer": [
            {"data": {"name": "temp"}, "mark": {"type": "bar", "color": "#FF6666", "width": 34},
             "encoding": {"y": {"field": "t", "type": "quantitative", "scale": {"domain": [12.5, 17], "range": [1059, 311], "nice": false, "zero": false}, "axis": {"orient": "right", "offset": -158, "values": [12.5, 13, 13.5, 14, 14.5, 15, 15.5, 16, 16.5, 17], "format": ".1f", "title": null, "labelPadding": 29}}, "y2": {"datum": 12.5}}},
            {"mark": {"type": "line", "color": "black", "strokeWidth": 4},
             "encoding": {"y": {"field": "c", "type": "quantitative", "scale": {"domain": [0, 1], "range": [1059, 311], "nice": false, "zero": false}, "axis": {"orient": "left", "offset": -221, "values": [0, 0.2, 0.4, 0.6, 0.8, 1], "format": "~g", "title": "Diametric Increment (cm/month)", "titlePadding": 40, "titleFontSize": 36, "labelPadding": 25}}, "detail": {"field": "g", "type": "nominal"}}},
            {"mark": {"type": "point", "shape": "square", "filled": true, "color": "black", "size": 330, "opacity": 1},
             "encoding": {"y": {"field": "c", "type": "quantitative", "scale": {"domain": [0, 1], "range": [1059, 311], "nice": false, "zero": false},
               "axis": {"orient": "left", "offset": 0, "domain": false, "ticks": false, "labels": false, "title": "(H)", "titleAngle": 0, "titleAlign": "left", "titleBaseline": "top", "titleX": 49, "titleY": 64, "titleFontSize": 62, "titleFontWeight": "normal"}}}},
            {"mark": {"type": "line", "color": "black", "strokeWidth": 4, "strokeDash": [18, 10]},
             "encoding": {"y": {"field": "r", "type": "quantitative", "scale": {"domain": [0, 1], "range": [1059, 311], "nice": false, "zero": false}, "axis": null}, "detail": {"field": "g", "type": "nominal"}}},
            {"mark": {"type": "point", "shape": "circle", "filled": true, "color": "black", "size": 300, "opacity": 1},
             "encoding": {"y": {"field": "r", "type": "quantitative", "scale": {"domain": [0, 1], "range": [1059, 311], "nice": false, "zero": false},
               "axis": {"orient": "left", "offset": 0, "domain": false, "ticks": false, "labels": false, "title": "Temperature: 0.9 ns", "titleAngle": 0, "titleAlign": "center", "titleBaseline": "middle", "titleX": 759, "titleY": 282, "titleFontSize": 42, "titleFontWeight": "normal"}}}},
            {"transform": [{"filter": "false"}], "mark": {"type": "point", "filled": true, "opacity": 1, "size": 900, "strokeWidth": 4},
             "encoding": {
               "shape": {"field": "k", "type": "nominal", "scale": {"domain": ["TEMPERATURE", "CONTROL", "RELEASED"], "range": ["M-3.3,-0.8H3.3V0.8H-3.3Z", "M-3.3,0H3.3M-0.6,-0.6H0.6V0.6H-0.6Z", "M-3.3,0H-1.7M1.7,0H3.3M0.65,0A0.65,0.65,0,1,1,-0.65,0A0.65,0.65,0,1,1,0.65,0Z"]}, "legend": {"orient": "none", "legendX": 1407, "legendY": 214, "rowPadding": 16, "title": null}},
               "color": {"field": "k", "type": "nominal", "scale": {"domain": ["TEMPERATURE", "CONTROL", "RELEASED"], "range": ["#FF6666", "black", "black"]}, "legend": {"orient": "none", "legendX": 1407, "legendY": 214, "rowPadding": 16, "title": null}},
               "stroke": {"field": "k", "type": "nominal", "scale": {"domain": ["TEMPERATURE", "CONTROL", "RELEASED"], "range": ["#FF6666", "black", "black"]}, "legend": {"orient": "none", "legendX": 1407, "legendY": 214, "rowPadding": 16, "title": null}}
             }}
          ]
        }
      ]
    }
  ]
}
